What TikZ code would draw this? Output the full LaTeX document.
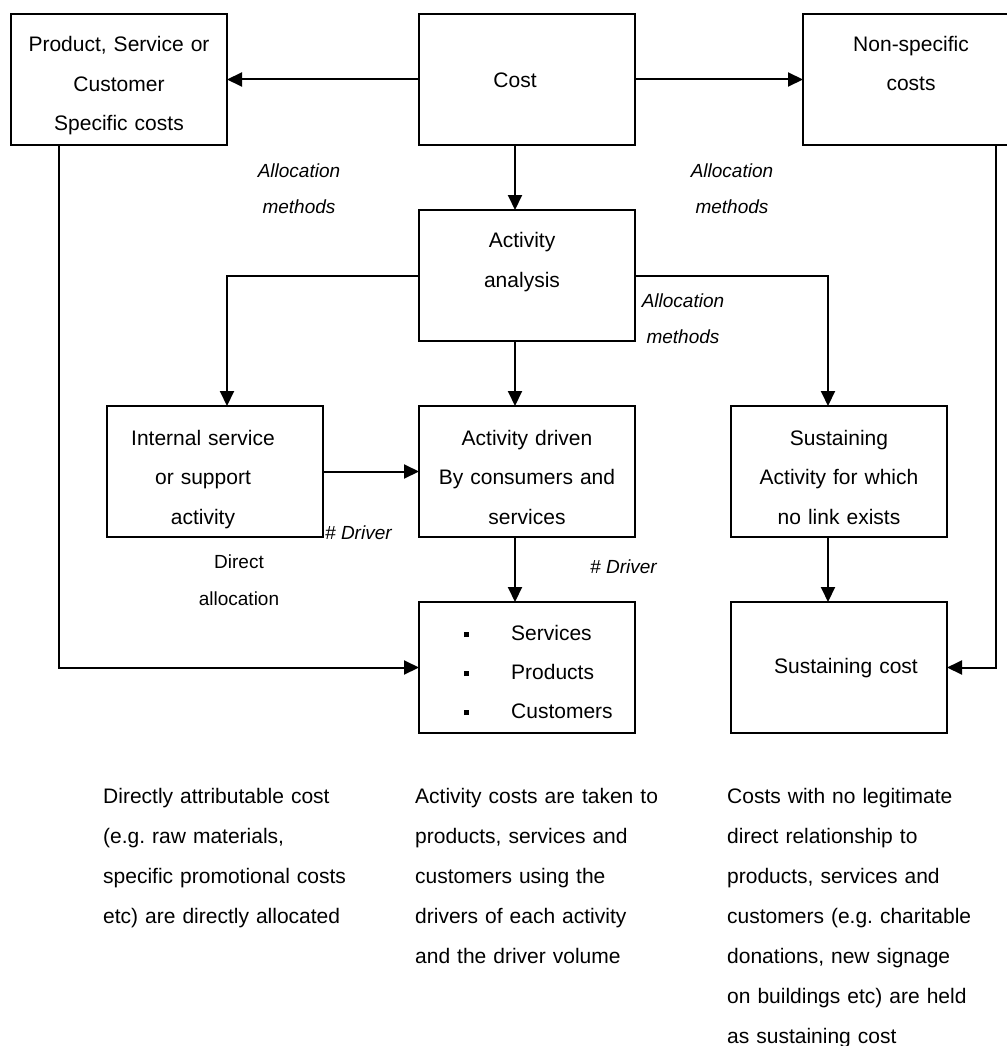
\documentclass[tikz,border=0pt]{standalone}
\usepackage{fontspec}
\setmainfont{Liberation Sans}
\usetikzlibrary{arrows.meta}
\frenchspacing
\begin{document}
\begin{tikzpicture}[x=1pt,y=-1pt,
  box/.style={draw, line width=2pt, minimum width=216pt, minimum height=131pt,
    inner sep=0pt, outer sep=0pt},
  conn/.style={line width=2pt, -{Triangle[length=15pt,width=14pt]}},
  boxtext/.style={inner sep=0pt, anchor=base, text width=210pt, align=center,
    font=\fontsize{21}{39.5}\selectfont},
  lbl/.style={inner sep=0pt, anchor=base, align=center,
    font=\fontsize{19}{36}\selectfont\itshape},
  drv/.style={inner sep=0pt, anchor=base west, font=\fontsize{19}{36}\selectfont\itshape},
  note/.style={inner sep=0pt, anchor=base west, text width=290pt, align=left,
    font=\fontsize{21}{40}\selectfont},
]
\useasboundingbox (0,0) rectangle (1006,1046);

% boxes
\node[box] (psc)   at (119,79.5)  {};
\node[box] (cost)  at (527,79.5)  {};
\node[box] (nsc)   at (911,79.5)  {};
\node[box] (aa)    at (527,275.5) {};
\node[box] (isa)   at (215,471.5) {};
\node[box] (adr)   at (527,471.5) {};
\node[box] (sus)   at (839,471.5) {};
\node[box] (items) at (527,667.5) {};
\node[box] (sc)    at (839,667.5) {};

% box texts
\node[boxtext] (psc-t)  at (119,52)  {Product, Service or\\Customer\\Specific costs};
\node[boxtext] (cost-t) at (515,88)  {Cost};
\node[boxtext] (nsc-t)  at (911,51.5) {Non-specific\\costs};
\node[boxtext] (aa-t)   at (522,247.5) {Activity\\analysis};
\node[boxtext] (isa-t)  at (203,445) {Internal service\\or support\\activity};
\node[boxtext] (adr-t)  at (527,445) {Activity driven\\By consumers and\\services};
\node[boxtext] (sus-t)  at (839,445) {Sustaining\\Activity for which\\no link exists};
\node[inner sep=0pt, anchor=base west, text width=170pt, align=left,
      font=\fontsize{21}{39}\selectfont] (items-t) at (464,640)
  {\makebox[47pt][l]{\rule[3pt]{5pt}{5pt}}Services\\
   \makebox[47pt][l]{\rule[3pt]{5pt}{5pt}}Products\\
   \makebox[47pt][l]{\rule[3pt]{5pt}{5pt}}Customers};
\node[boxtext] (sc-t) at (846,673) {Sustaining cost};

% connector labels
\node[lbl] (am-l) at (299,213) {Allocation\\methods};
\node[lbl] (am-r) at (732,213) {Allocation\\methods};
\node[lbl] (am-m) at (683,343) {Allocation\\methods};
\node[drv] (drv-l) at (325,539) {\# Driver};
\node[drv] (drv-r) at (590,573) {\# Driver};
\node[inner sep=0pt, anchor=base, align=center,
      font=\fontsize{19}{37}\selectfont] (da) at (239,605) {Direct\\allocation};

% connectors
\draw[conn] (cost.west) -- (psc.east);
\draw[conn] (cost.east) -- (nsc.west);
\draw[conn] ([xshift=-12pt]cost.south) -- ([xshift=-12pt]aa.north);
\draw[conn] (aa.west) -| ([xshift=12pt]isa.north);
\draw[conn] (aa.east) -| ([xshift=-11pt]sus.north);
\draw[conn] ([xshift=-12pt]aa.south) -- ([xshift=-12pt]adr.north);
\draw[conn] (isa.east) -- (adr.west);
\draw[conn] ([xshift=-12pt]adr.south) -- ([xshift=-12pt]items.north);
\draw[conn] ([xshift=-11pt]sus.south) -- ([xshift=-11pt]sc.north);
\draw[conn] ([xshift=-60pt]psc.south) |- (items.west);
\draw[conn] ([xshift=85pt]nsc.south) |- (sc.east);

% explanatory notes
\node[note] (n-direct) at (103,803) {Directly attributable cost\\(e.g. raw materials,\\specific promotional costs\\etc) are directly allocated};
\node[note] (n-activity) at (415,803) {Activity costs are taken to\\products, services and\\customers using the\\drivers of each activity\\and the driver volume};
\node[note] (n-sustain) at (727,803) {Costs with no legitimate\\direct relationship to\\products, services and\\customers (e.g. charitable\\donations, new signage\\on buildings etc) are held\\as sustaining cost};
\end{tikzpicture}
\end{document}
